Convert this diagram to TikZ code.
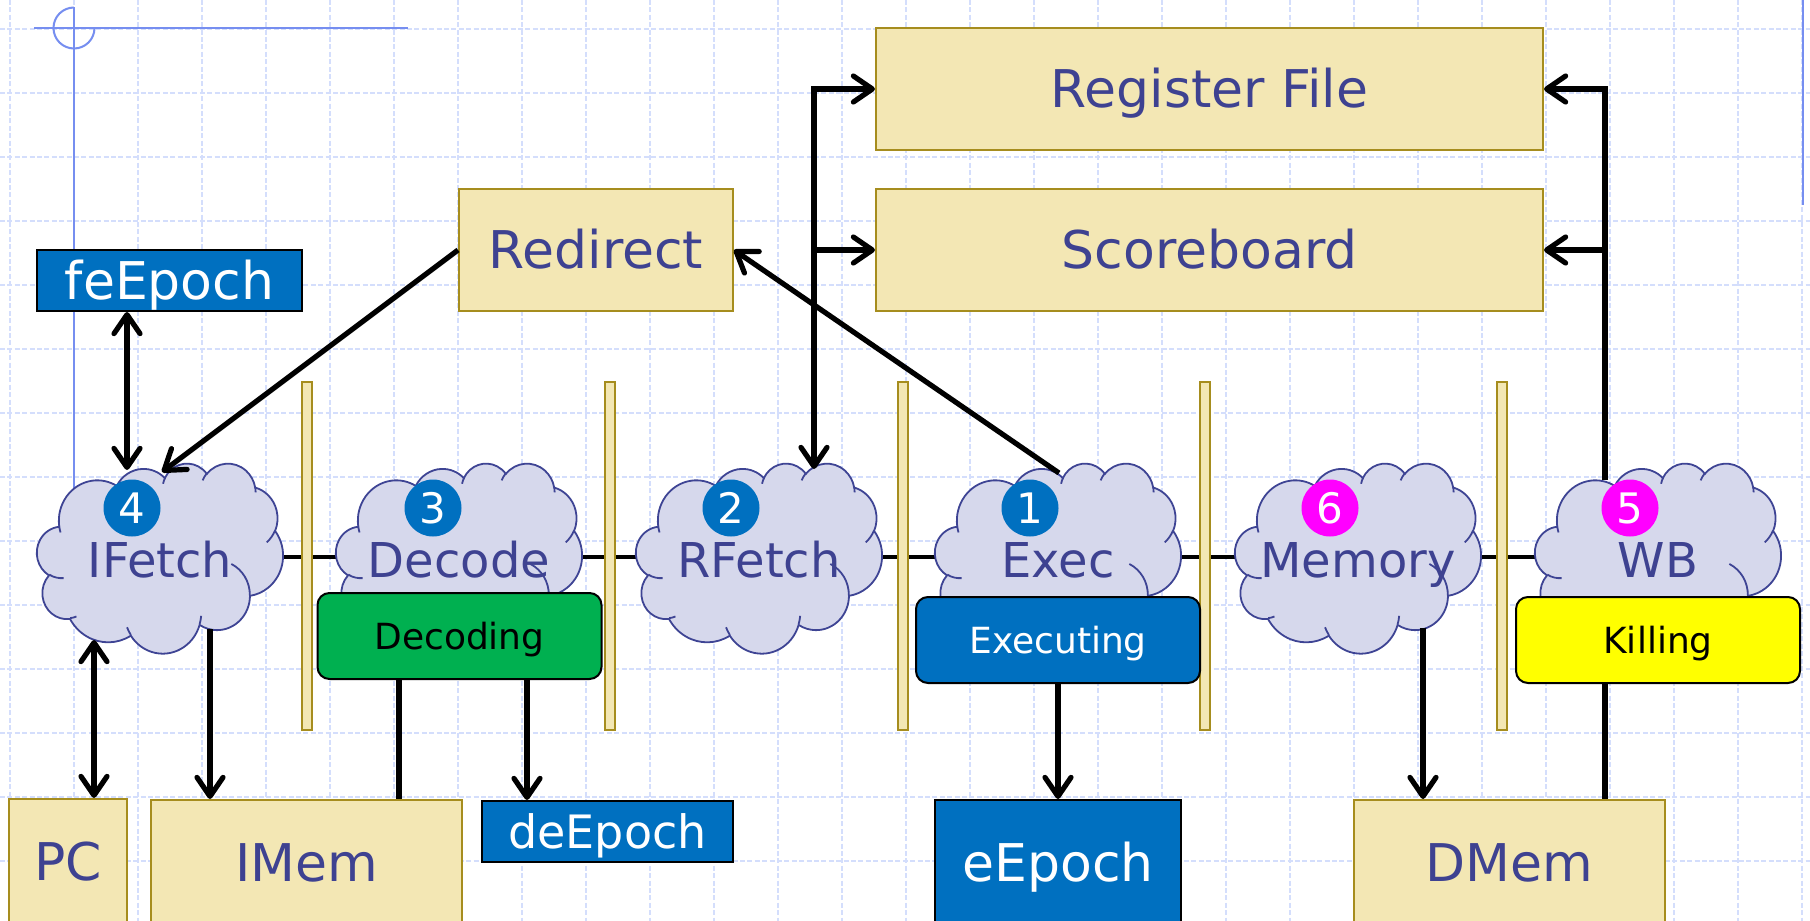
\documentclass[tikz,border=0pt]{standalone}
\usepackage{fontspec}
\setmainfont{DejaVu Sans}
\usetikzlibrary{arrows.meta,calc}

\definecolor{gridc}{RGB}{212,222,252}
\definecolor{guide}{RGB}{118,142,240}
\definecolor{tanfill}{RGB}{243,231,180}
\definecolor{tanline}{RGB}{166,141,30}
\definecolor{txtblue}{RGB}{62,66,145}
\definecolor{cloudfill}{RGB}{214,216,236}
\definecolor{cloudline}{RGB}{62,68,148}
\definecolor{epochblue}{RGB}{0,112,192}
\definecolor{decgreen}{RGB}{0,176,80}
\definecolor{killyellow}{RGB}{255,255,0}
\definecolor{numpink}{RGB}{255,0,255}

\newcommand\bigf{\fontsize{26pt}{31pt}\selectfont}
\newcommand\deepf{\fontsize{23pt}{28pt}\selectfont}
\newcommand\cloudf{\fontsize{24pt}{29pt}\selectfont}
\newcommand\midf{\fontsize{18pt}{22pt}\selectfont}
\newcommand\numf{\fontsize{21pt}{25pt}\selectfont}

\newcommand\stagecloud[1]{%
\begin{scope}[shift={(#1-123,463)},xscale=0.56944,yscale=0.43981]
\draw[cloudbody] (39,143.7)
 arc[start angle=-187.75,end angle=-59.64,x radius=67.53,y radius=91.90]
 arc[start angle=-152.02,end angle=-45.46,x radius=53.33,y radius=72.67]
 arc[start angle=-153.49,end angle=-37.33,x radius=43.65,y radius=59.45]
 arc[start angle=-139.71,end angle=-10.21,x radius=48.57,y radius=65.95]
 arc[start angle=-74.77,end angle=23.21,x radius=53.33,y radius=72.73]
 arc[start angle=-37.52,end angle=81.86,x radius=67.75,y radius=92.20]
 arc[start angle=0.46,end angle=121.97,x radius=57.85,y radius=78.67]
 arc[start angle=16.84,end angle=146.23,x radius=67.52,y radius=92.15]
 arc[start angle=58.98,end angle=150.18,x radius=77.20,y radius=105.43]
 arc[start angle=-276.69,end angle=-136.90,x radius=43.60,y radius=59.18]
 arc[start angle=-239.64,end angle=-95.89,x radius=43.45,y radius=59.45]
 -- cycle;
\draw[cloudedge]
 (46.93,261.77) arc[start angle=85.55,end angle=120.36,x radius=43.45,y radius=59.45]
 (69.28,348.99) arc[start angle=68.23,end angle=83.31,x radius=43.60,y radius=59.18]
 (164.78,390.90) arc[start angle=146.23,end angle=158.47,x radius=67.52,y radius=92.15]
 (288.27,347.51) arc[start angle=4.74,end angle=16.84,x radius=67.52,y radius=92.15]
 (341.29,229.54) arc[start angle=-64.03,end angle=0.46,x radius=57.85,y radius=78.67]
 (417.98,153.54) arc[start angle=23.21,end angle=49.65,x radius=53.33,y radius=72.73]
 (383.24,54.26) arc[start angle=-10.21,end angle=0.82,x radius=48.57,y radius=65.95]
 (290.78,39.52) arc[start angle=-156.29,end angle=-139.71,x radius=48.57,y radius=65.95]
 (221.41,47.20) arc[start angle=-167.73,end angle=-153.49,x radius=43.65,y radius=59.45]
 (140.00,51.92) arc[start angle=-59.64,end angle=-45.73,x radius=67.53,y radius=91.90]
 (41.27,157.89) arc[start angle=163.19,end angle=172.25,x radius=67.53,y radius=91.90];
\end{scope}}

\begin{document}
\begin{tikzpicture}[x=0.5pt,y=-0.5pt,
  gridln/.style={draw=gridc,line width=0.65pt,dash pattern=on 2.5pt off 1.2pt},
  guideln/.style={draw=guide,line width=1pt},
  cloudbody/.style={fill=cloudfill,draw=cloudline,line width=0.9pt},
  cloudedge/.style={draw=cloudline,line width=0.9pt},
  tanbox/.style={draw=tanline,fill=tanfill,line width=1pt,text=txtblue,font=\bigf,
    inner sep=0pt,text height=18.9pt,text depth=0pt},
  epochbox/.style={draw=black,fill=epochblue,line width=1pt,text=white,font=\bigf,
    inner sep=0pt,text height=18.9pt,text depth=0pt},
  stagebox/.style={draw=black,line width=1pt,rounded corners=6pt,font=\midf,
    inner sep=0pt,text height=13.1pt,text depth=0pt,minimum width=142pt,minimum height=43pt},
  pipereg/.style={draw=tanline,fill=tanfill,line width=1pt,minimum width=5pt,
    minimum height=174pt,inner sep=0pt},
  cloudtxt/.style={text=txtblue,font=\cloudf,inner sep=0pt,text height=17.5pt,text depth=0pt},
  numc/.style={circle,minimum size=28.5pt,inner sep=0pt,text=white,font=\numf,
    text height=15.3pt,text depth=0pt},
  conn/.style={draw=black,line width=2.6pt,>={Straight Barb[length=9.5pt,width=13pt,round]}},
  pipeln/.style={draw=black,line width=2.3pt}]
\useasboundingbox (0,0) rectangle (1810,921);
\clip (0,0) rectangle (1810,921);
\fill[white] (0,0) rectangle (1810,921);

% grid
\foreach \k in {0,...,28} \draw[gridln] (10+64*\k,0) -- (10+64*\k,921);
\foreach \k in {0,...,14} \draw[gridln] (0,29+64*\k) -- (1810,29+64*\k);

% guide marks
\draw[guideln] (34,28) -- (408,28);
\draw[guideln] (74,7) -- (74,500);
\draw[guideln] (74,7.5) arc[start angle=-90,end angle=-360,radius=20.5];
\draw[guideln] (1803,0) -- (1803,205);

% pipeline line
\coordinate (pipeL) at (160,557);
\coordinate (pipeR) at (1658,557);
\draw[pipeln] (pipeL) -- (pipeR);

% clouds
\foreach \c in {160,459,759,1058,1358,1658} {\stagecloud{\c}}

% pipeline registers
\foreach \x [count=\i] in {307,610,902.5,1205,1501.5}
  \node[pipereg] (preg\i) at (\x,556) {};

% stage labels
\node[cloudtxt] (ifetch) at (160,559.5) {IFetch};
\node[cloudtxt] (decode) at (459,559.5) {Decode};
\node[cloudtxt] (rfetch) at (759,559.5) {RFetch};
\node[cloudtxt] (exec) at (1058,559.5) {Exec};
\node[cloudtxt] (memory) at (1358,559.5) {Memory};
\node[cloudtxt] (wb) at (1658,559.5) {WB};

\node[numc,fill=epochblue] (num4) at (132,508) {4};
\node[numc,fill=epochblue] (num3) at (433,508) {3};
\node[numc,fill=epochblue] (num2) at (731,508) {2};
\node[numc,fill=epochblue] (num1) at (1030,508) {1};
\node[numc,fill=numpink] (num6) at (1330,508) {6};
\node[numc,fill=numpink] (num5) at (1630,508) {5};

% boxes
\node[tanbox,minimum width=333.5pt,minimum height=61pt] (regfile) at (1209.5,89) {Register File};
\node[tanbox,minimum width=333.5pt,minimum height=61pt] (scoreboard) at (1209.5,250) {Scoreboard};
\node[tanbox,minimum width=137pt,minimum height=61pt] (redirect) at (596,250) {Redirect};
\node[epochbox,minimum width=132.5pt,minimum height=30.5pt] (feepoch) at (169.5,280.5) {feEpoch};
\node[tanbox,minimum width=59pt,minimum height=63pt] (pc) at (68,862) {PC};
\node[tanbox,minimum width=155.5pt,minimum height=62.5pt] (imem) at (306.5,862.5) {IMem};
\node[epochbox,font=\deepf,text height=16.8pt,minimum width=125.5pt,minimum height=30.5pt] (deepoch) at (607.5,831.5) {deEpoch};
\node[epochbox,minimum width=123pt,minimum height=62.5pt] (eepoch) at (1058,862.5) {eEpoch};
\node[tanbox,minimum width=155.5pt,minimum height=62.5pt] (dmem) at (1509.5,862.5) {DMem};

\node[stagebox,fill=decgreen,text=black] (decoding) at (459.5,636) {Decoding};
\node[stagebox,fill=epochblue,text=white] (executing) at (1058,640) {Executing};
\node[stagebox,fill=killyellow,text=black] (killing) at (1658,640) {Killing};

% connector end points on the clouds
\coordinate (feA) at (127,470);
\coordinate (rdA) at (162,472);
\coordinate (pcA) at (94,640);
\coordinate (imA) at (210,629);
\coordinate (rfA) at (814,469);
\coordinate (exA) at (1059,473);
\coordinate (meA) at (1423,628);
\coordinate (wbA) at (1605,480);
\coordinate (decA) at ($(decoding.south)+(-60.5,0)$);
\coordinate (decB) at ($(decoding.south)+(67.5,0)$);
\coordinate (kilA) at ($(killing.south)+(-53,0)$);

% connectors
\draw[conn,<->] (feepoch.south -| feA) -- (feA);
\draw[conn,->] (redirect.west) -- (rdA);
\draw[conn,->] (exA) -- (redirect.east);
\draw[conn,<->] (rfA) |- (regfile.west);
\draw[conn,->] (rfA |- scoreboard.west) -- (scoreboard.west);
\draw[conn,->] (wbA) |- (regfile.east);
\draw[conn,->] (wbA |- scoreboard.east) -- (scoreboard.east);
\draw[conn,<->] (pcA) -- (pcA |- pc.north);
\draw[conn,->] (imA) -- (imA |- imem.north);
\draw[conn] (decA) -- (decA |- imem.north);
\draw[conn,->] (decB) -- (decB |- deepoch.north);
\draw[conn,->] (executing.south) -- (eepoch.north);
\draw[conn,->] (meA) -- (meA |- dmem.north);
\draw[conn] (kilA) -- (kilA |- dmem.north);
\end{tikzpicture}
\end{document}
